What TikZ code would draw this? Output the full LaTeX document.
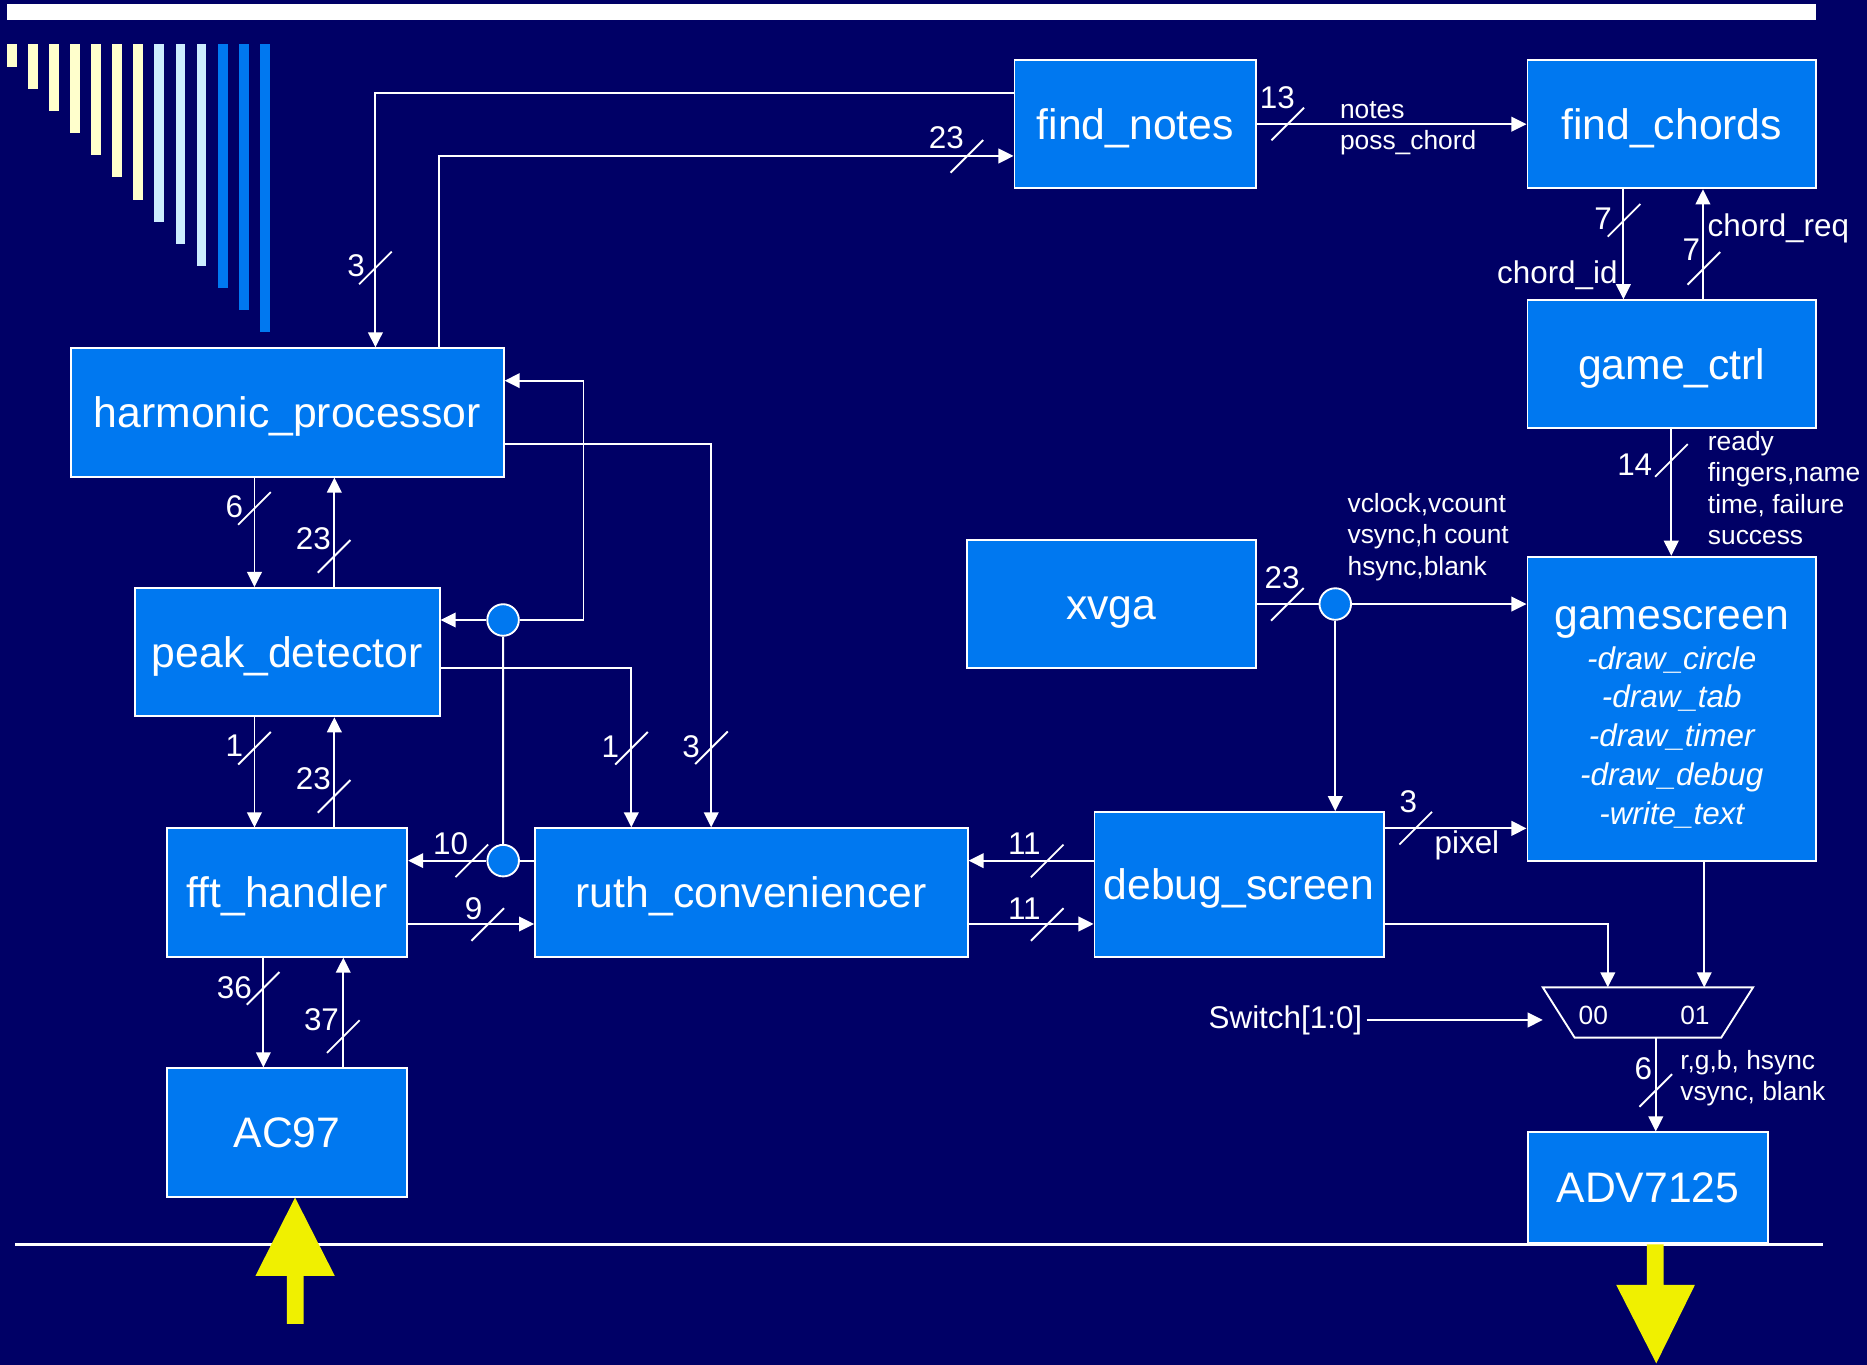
\documentclass[tikz,border=0pt]{standalone}
\usepackage{fontspec}
\setmainfont{Liberation Sans}
\usepackage{tikz}
\usetikzlibrary{arrows.meta,positioning,calc}
\definecolor{navy}{RGB}{0,0,102}
\definecolor{blk}{RGB}{0,120,240}
\definecolor{pale}{RGB}{255,255,204}
\definecolor{sky}{RGB}{204,236,255}
\definecolor{yel}{RGB}{240,240,0}

\begin{document}
\begin{tikzpicture}[
    >={Triangle[length=3.6pt,width=3.5pt]},
    color=white, line width=0.45pt,
    mod/.style={draw=white, fill=blk, inner sep=0pt, minimum height=1.078cm,
                text height=7.1pt, text depth=0pt,
                font=\fontsize{10.2}{12}\selectfont},
    jn/.style={circle, draw=white, fill=blk, minimum size=0.265cm, inner sep=0pt},
    num/.style={inner sep=0pt, font=\fontsize{7.5}{9}\selectfont},
    sig/.style={inner sep=0pt, align=left, font=\fontsize{6.3}{7.5}\selectfont},
    bus/.pic={\draw (-0.137,-0.137) -- (0.137,0.137);}
  ]
  \useasboundingbox (0,0) rectangle (15.68,-11.46);
  \fill[navy] (0,0) rectangle (15.68,-11.46);

  % Title decoration
  \fill[white] (0.06,-0.034) rectangle (15.25,-0.168);
  \foreach \i/\c in {0/pale,1/pale,2/pale,3/pale,4/pale,5/pale,6/pale,
                     7/sky,8/sky,9/sky,10/blk,11/blk,12/blk}
    \fill[\c] ({0.058+0.177*\i},-0.37) rectangle ++(0.083,{-0.19-0.186*\i});
  \draw[line width=0.7pt] (0.13,-10.45) -- (15.31,-10.45);

  % Modules
  \node[mod, minimum width=3.635cm] (harm) at (2.413,-3.464) {harmonic\_processor};
  \node[mod, minimum width=2.561cm] (peak) at (2.412,-5.477) {peak\_detector};
  \node[mod, minimum width=2.018cm] (fft) at (2.411,-7.496) {fft\_handler};
  \node[mod, minimum width=2.018cm] (ac97) at (2.411,-9.511) {AC97};
  \node[mod, minimum width=3.633cm] (ruth) at (6.31,-7.495) {ruth\_conveniencer};
  \node[mod, minimum width=2.428cm, minimum height=1.215cm] (dbg) at (10.406,-7.428) {debug\_screen};
  \node[mod, minimum width=2.427cm] (xvga) at (9.333,-5.074) {xvga};
  \node[mod, minimum width=2.03cm] (fnotes) at (9.535,-1.043) {find\_notes};
  \node[mod, minimum width=2.424cm] (fchords) at (14.04,-1.043) {find\_chords};
  \node[mod, minimum width=2.424cm, minimum height=1.075cm] (gctrl) at (14.04,-3.059) {game\_ctrl};
  \node[mod, minimum width=2.424cm, minimum height=2.553cm, align=center,
        text height={}, text depth={},
        font=\fontsize{7.5}{9.25}\selectfont\itshape] (gscr) at (14.04,-5.952)
       {\rule{0pt}{9.5pt}{\upshape\fontsize{10.2}{12}\selectfont gamescreen}\\[0.3pt]
        -draw\_circle\\ -draw\_tab\\ -draw\_timer\\ -draw\_debug\\ -write\_text};
  \node[mod, minimum width=2.02cm, minimum height=0.932cm] (adv) at (13.84,-9.976) {ADV7125};

  % Mux
  \node[minimum width=1.75cm, minimum height=0.406cm, inner sep=0pt] (mux) at (13.84,-8.503) {};
  \draw (mux.north west) -- (mux.north east) -- ([xshift=-0.267cm]mux.south east)
        -- ([xshift=0.267cm]mux.south west) -- cycle;
  \node[sig] (m00) at (13.382,-8.524) {00};
  \node[sig] (m01) at (14.235,-8.524) {01};
  \node[num, anchor=east, inner xsep=0.85pt] (sw) at (11.478,-8.566) {Switch[1:0]};

  % Junctions
  \node[jn] (jhi) at (4.225,-5.207) {};
  \node[jn] (jlo) at (4.226,-7.228) {};
  \node[jn] (jxv) at (11.214,-5.073) {};

  % Connections
  \draw[->] (fnotes.west |- 0,-0.778) -| (harm.north -| 3.153,0);
  \draw[->] (harm.north -| 3.687,0) |- (fnotes.west |- 0,-1.31);
  \draw[->] (fnotes) -- (fchords);
  \draw[->] (fchords.south -| 13.634,0) -- (gctrl.north -| 13.634,0);
  \draw[->] (gctrl.north -| 14.302,0) -- (fchords.south -| 14.302,0);
  \draw[->] (gctrl.south -| 14.036,0) -- (gscr.north -| 14.036,0);
  \draw (xvga.east |- jxv) -- (jxv);
  \draw[->] (jxv) -- (gscr.west |- jxv);
  \draw[->] (jxv) -- (dbg.north -| jxv);
  \draw[->] (dbg.east |- 0,-6.957) -- (gscr.west |- 0,-6.957);
  \draw[->] (dbg.west |- 0,-7.228) -- (ruth.east |- 0,-7.228);
  \draw[->] (ruth.east |- 0,-7.76) -- (dbg.west |- 0,-7.76);
  \draw (ruth.west |- jlo) -- (jlo);
  \draw[->] (jlo) -- (fft.east |- jlo);
  \draw (jlo) -- (jhi);
  \draw[->] (jhi) -- (peak.east |- jhi);
  \draw[->] (jhi) -| (4.9,-3.197) -- (harm.east |- 0,-3.197);
  \draw[->] (harm.east |- 0,-3.732) -| (ruth.north -| 5.973,0);
  \draw[->] (peak.east |- 0,-5.613) -| (ruth.north -| 5.302,0);
  \draw[->] (fft.east |- 0,-7.76) -- (ruth.west |- 0,-7.76);
  \draw[->] (harm.south -| 2.137,0) -- (peak.north -| 2.137,0);
  \draw[->] (peak.north -| 2.808,0) -- (harm.south -| 2.808,0);
  \draw[->] (peak.south -| 2.137,0) -- (fft.north -| 2.137,0);
  \draw[->] (fft.north -| 2.808,0) -- (peak.south -| 2.808,0);
  \draw[->] (fft.south -| 2.212,0) -- (ac97.north -| 2.212,0);
  \draw[->] (ac97.north -| 2.883,0) -- (fft.south -| 2.883,0);
  \draw[->] (dbg.east |- 0,-7.76) -| (mux.north -| 13.503,0);
  \draw[->] (gscr.south -| 14.313,0) -- (mux.north -| 14.313,0);
  \draw[->] (sw.east) -- (mux.west |- sw.east);
  \draw[->] (mux.south -| 13.906,0) -- (adv.north -| 13.906,0);

  % Bus widths
  \pic at (3.153,-2.25) {bus};
  \pic at (8.12,-1.313) {bus};
  \pic at (10.815,-1.041) {bus};
  \pic at (13.64,-1.85) {bus};
  \pic at (14.31,-2.254) {bus};
  \pic at (14.037,-3.867) {bus};
  \pic at (10.812,-5.075) {bus};
  \pic at (11.89,-6.955) {bus};
  \pic at (8.795,-7.23) {bus};
  \pic at (8.795,-7.765) {bus};
  \pic at (3.963,-7.229) {bus};
  \pic at (4.096,-7.765) {bus};
  \pic at (5.304,-6.284) {bus};
  \pic at (5.975,-6.28) {bus};
  \pic at (2.137,-4.27) {bus};
  \pic at (2.806,-4.673) {bus};
  \pic at (2.137,-6.284) {bus};
  \pic at (2.806,-6.688) {bus};
  \pic at (2.21,-8.30) {bus};
  \pic at (2.883,-8.706) {bus};
  \pic at (13.906,-9.158) {bus};

  \node[num] (w3a) at (2.99,-2.23) {3};
  \node[num] (w23a) at (7.947,-1.16) {23};
  \node[num] (w13) at (10.728,-0.817) {13};
  \node[num] (w7a) at (13.463,-1.834) {7};
  \node[num] (w7b) at (14.204,-2.10) {7};
  \node[num] (w14) at (13.729,-3.905) {14};
  \node[num] (w23b) at (10.767,-4.849) {23};
  \node[num] (w3b) at (11.828,-6.733) {3};
  \node[num] (w11a) at (8.603,-7.083) {11};
  \node[num] (w11b) at (8.603,-7.629) {11};
  \node[num] (w10) at (3.784,-7.083) {10};
  \node[num] (w9) at (3.978,-7.629) {9};
  \node[num] (w1a) at (5.127,-6.27) {1};
  \node[num] (w3c) at (5.804,-6.27) {3};
  \node[num] (w6a) at (1.968,-4.255) {6};
  \node[num] (w23c) at (2.632,-4.521) {23};
  \node[num] (w1b) at (1.968,-6.265) {1};
  \node[num] (w23d) at (2.632,-6.537) {23};
  \node[num] (w36) at (1.968,-8.292) {36};
  \node[num] (w37) at (2.70,-8.56) {37};
  \node[num] (w6b) at (13.801,-8.972) {6};

  % Signal names
  \node[num, anchor=east] (cid) at (13.593,-2.315) {chord\_id};
  \node[num, anchor=west] (creq) at (14.334,-1.914) {chord\_req};
  \node[num] (pix) at (12.32,-7.1) {pixel};
  \node[sig, anchor=west] (nsig) at (11.246,-1.075) {notes\\poss\_chord};
  \node[sig, anchor=west] (vsig) at (11.31,-4.51) {vclock,vcount\\vsync,h count\\hsync,blank};
  \node[sig, anchor=west] (gsig) at (14.336,-4.099) {ready\\fingers,name\\time, failure\\success};
  \node[sig, anchor=west] (rsig) at (14.104,-9.056) {r,g,b, hsync\\vsync, blank};

  % External I/O
  \fill[yel] (ac97.south -| 2.478,0) -- ++(0.334,-0.658) -- ++(-0.262,0) -- ++(0,-0.403)
        -- ++(-0.14,0) -- ++(0,0.403) -- ++(-0.265,0) -- cycle;
  \fill[yel] (adv.south -| 13.832,0) -- ++(0.14,0) -- (13.972,-10.79) -- (14.235,-10.79)
        -- (13.91,-11.45) -- (13.573,-10.79) -- (13.832,-10.79) -- cycle;
\end{tikzpicture}
\end{document}
